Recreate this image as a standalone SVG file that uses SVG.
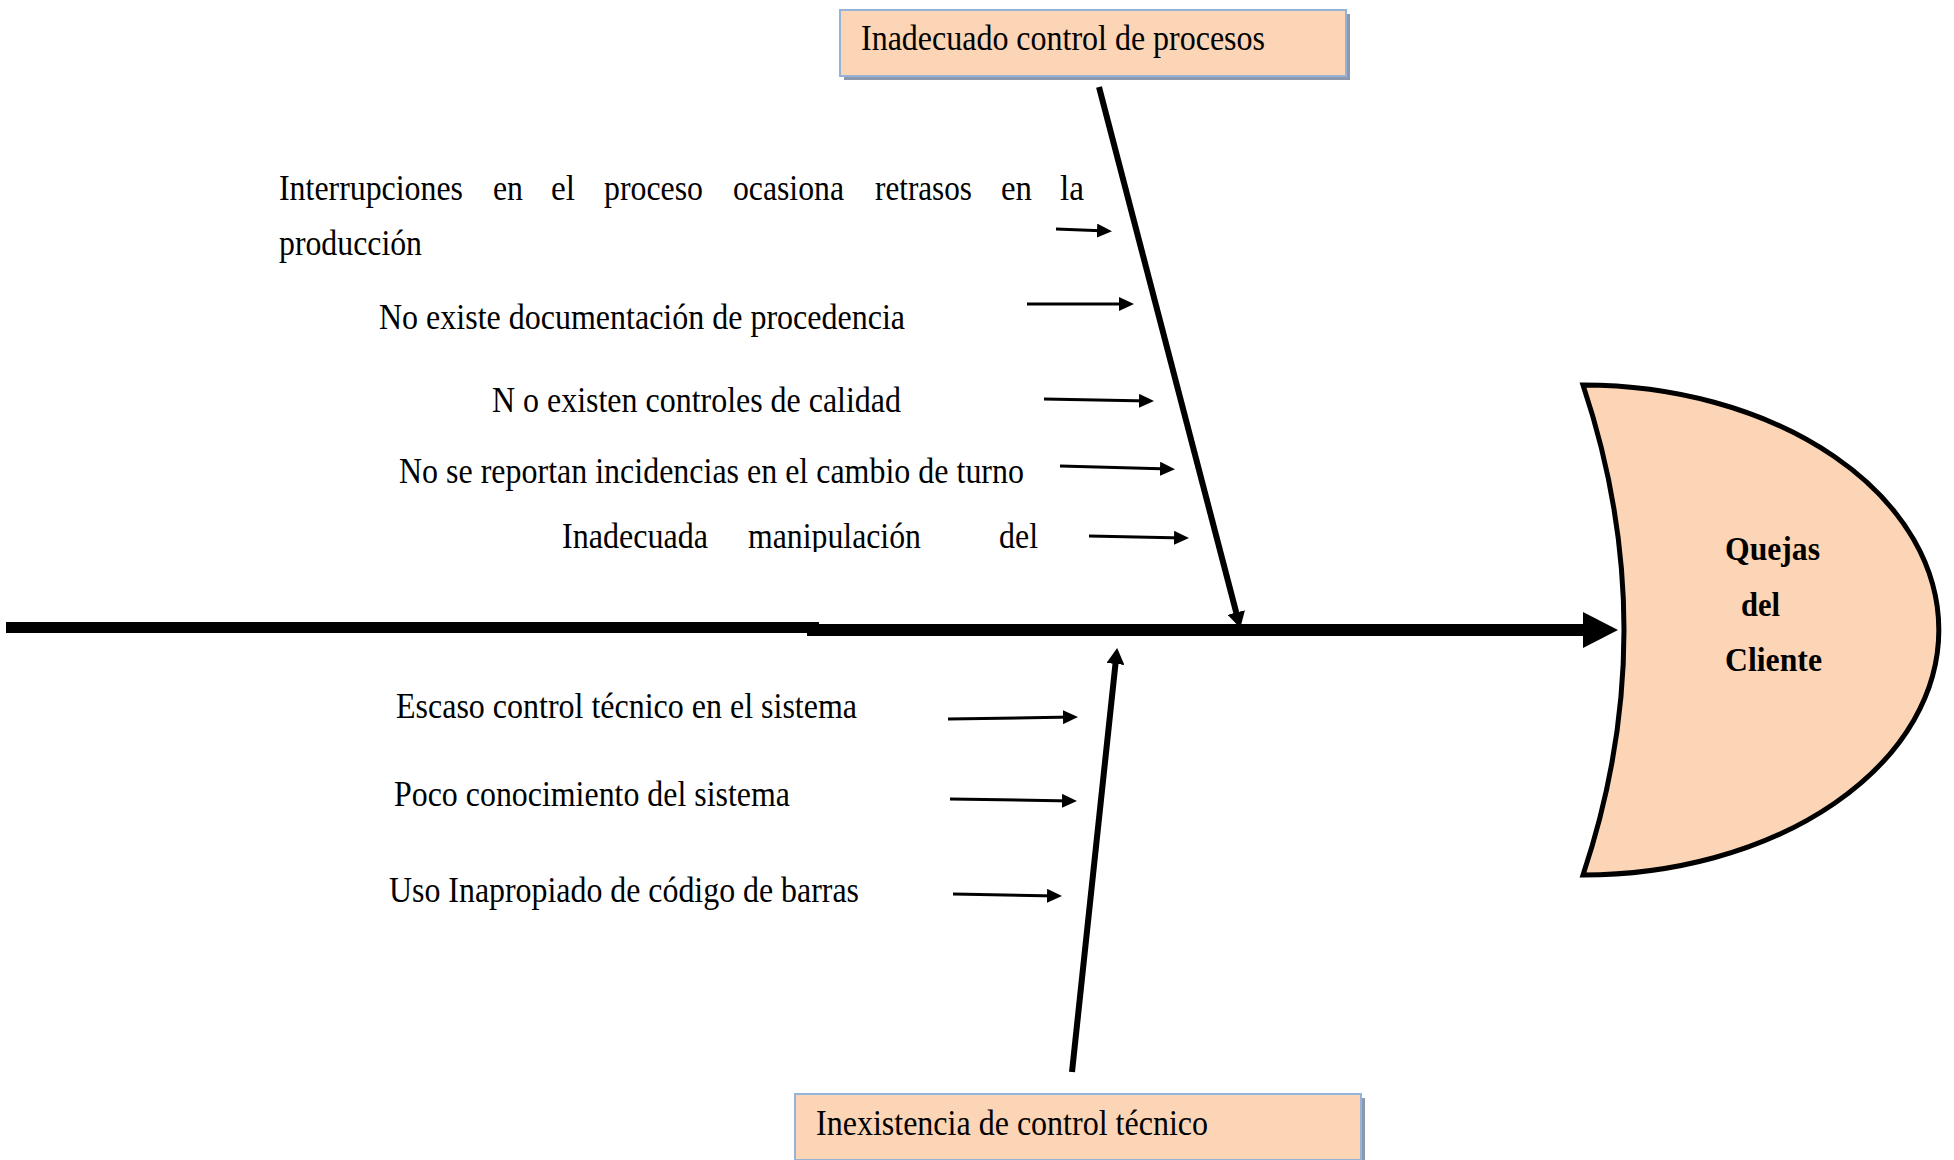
<svg xmlns="http://www.w3.org/2000/svg" width="1954" height="1160" viewBox="0 0 1954 1160">
<style>
.t{font-family:"Liberation Serif","Times New Roman",serif;font-size:35px;fill:#000}
.b{font-family:"Liberation Serif","Times New Roman",serif;font-size:33px;font-weight:bold;fill:#000}
.box{fill:#FBD5B5;stroke:#95B3D7;stroke-width:2}
.shadow{fill:#8C99AD}
.sm{stroke:#000;stroke-width:3;fill:none}
.bone{stroke:#000;stroke-width:6;fill:none}
</style>
<defs>
<marker id="ah" markerUnits="userSpaceOnUse" markerWidth="16" markerHeight="14" refX="10" refY="7" orient="auto">
<path d="M0,0 L15,7 L0,14 z" fill="#000"/>
</marker>
<marker id="bh" markerUnits="userSpaceOnUse" markerWidth="17" markerHeight="18" refX="7" refY="9" orient="auto">
<path d="M0,0 L16,9 L0,18 z" fill="#000"/>
</marker>
<clipPath id="clip5"><rect x="0" y="500" width="1200" height="52"/></clipPath>
</defs>

<g id="connectors">
<rect x="6" y="622" width="813" height="11" fill="#000"/>
<rect x="807" y="624" width="777" height="12" fill="#000"/>
<polygon points="1583,612 1618,630 1583,648" fill="#000"/>
<line class="bone" x1="1099" y1="87" x2="1238" y2="619.3" marker-end="url(#bh)"/>
<line class="bone" x1="1072" y1="1072" x2="1116.2" y2="657" marker-end="url(#bh)"/>
<line class="sm" x1="1056" y1="229" x2="1107" y2="231" marker-end="url(#ah)"/>
<line class="sm" x1="1027" y1="304" x2="1129" y2="304" marker-end="url(#ah)"/>
<line class="sm" x1="1044" y1="399" x2="1149" y2="401" marker-end="url(#ah)"/>
<line class="sm" x1="1060" y1="466" x2="1170" y2="469" marker-end="url(#ah)"/>
<line class="sm" x1="1089" y1="536" x2="1184" y2="538" marker-end="url(#ah)"/>
<line class="sm" x1="948" y1="719" x2="1073" y2="717" marker-end="url(#ah)"/>
<line class="sm" x1="950" y1="799" x2="1072" y2="801" marker-end="url(#ah)"/>
<line class="sm" x1="953" y1="894" x2="1057" y2="896" marker-end="url(#ah)"/>
</g>

<g id="node-top">
<rect class="shadow" x="844" y="14" width="506" height="66"/>
<rect class="box" x="840" y="10" width="506" height="66"/>
<text class="t" x="861" y="50" textLength="404" lengthAdjust="spacingAndGlyphs">Inadecuado control de procesos</text>
</g>

<g id="node-bottom">
<rect class="shadow" x="799" y="1098" width="566" height="66"/>
<rect class="box" x="795" y="1094" width="566" height="66"/>
<text class="t" x="816" y="1135" textLength="392" lengthAdjust="spacingAndGlyphs">Inexistencia de control técnico</text>
</g>

<g id="node-effect">
<path d="M1583,385 A356,245 0 0 1 1583,875 Q1665,630 1583,385 Z" fill="#FBD5B5" stroke="#000" stroke-width="5" stroke-linejoin="miter"/>
<text class="b" x="1725" y="560" textLength="95" lengthAdjust="spacingAndGlyphs">Quejas</text>
<text class="b" x="1741" y="616" textLength="39" lengthAdjust="spacingAndGlyphs">del</text>
<text class="b" x="1725" y="671" textLength="97" lengthAdjust="spacingAndGlyphs">Cliente</text>
</g>

<g id="cause-1">
<text class="t" x="279" y="200" textLength="184" lengthAdjust="spacingAndGlyphs">Interrupciones</text>
<text class="t" x="493" y="200" textLength="30" lengthAdjust="spacingAndGlyphs">en</text>
<text class="t" x="551" y="200" textLength="24" lengthAdjust="spacingAndGlyphs">el</text>
<text class="t" x="604" y="200" textLength="99" lengthAdjust="spacingAndGlyphs">proceso</text>
<text class="t" x="733" y="200" textLength="111" lengthAdjust="spacingAndGlyphs">ocasiona</text>
<text class="t" x="875" y="200" textLength="97" lengthAdjust="spacingAndGlyphs">retrasos</text>
<text class="t" x="1001" y="200" textLength="31" lengthAdjust="spacingAndGlyphs">en</text>
<text class="t" x="1060" y="200" textLength="24" lengthAdjust="spacingAndGlyphs">la</text>
<text class="t" x="279" y="255" textLength="143" lengthAdjust="spacingAndGlyphs">producción</text>
</g>
<g id="cause-2"><text class="t" x="379" y="329" textLength="526" lengthAdjust="spacingAndGlyphs">No existe documentación de procedencia</text></g>
<g id="cause-3"><text class="t" x="492" y="412" textLength="409" lengthAdjust="spacingAndGlyphs">N o existen controles de calidad</text></g>
<g id="cause-4"><text class="t" x="399" y="483" textLength="625" lengthAdjust="spacingAndGlyphs">No se reportan incidencias en el cambio de turno</text></g>
<g id="cause-5" clip-path="url(#clip5)">
<text class="t" x="562" y="548" textLength="146" lengthAdjust="spacingAndGlyphs">Inadecuada</text>
<text class="t" x="748" y="548" textLength="173" lengthAdjust="spacingAndGlyphs">manipulación</text>
<text class="t" x="999" y="548" textLength="39" lengthAdjust="spacingAndGlyphs">del</text>
</g>
<g id="cause-6"><text class="t" x="396" y="718" textLength="461" lengthAdjust="spacingAndGlyphs">Escaso control técnico en el sistema</text></g>
<g id="cause-7"><text class="t" x="394" y="806" textLength="396" lengthAdjust="spacingAndGlyphs">Poco conocimiento del sistema</text></g>
<g id="cause-8"><text class="t" x="389" y="902" textLength="470" lengthAdjust="spacingAndGlyphs">Uso Inapropiado de código de barras</text></g>
</svg>
